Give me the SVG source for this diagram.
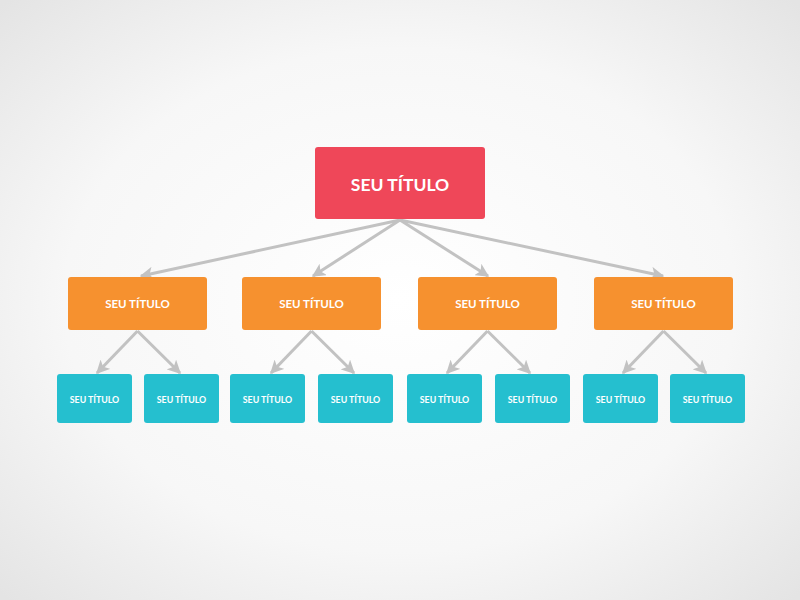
<svg xmlns="http://www.w3.org/2000/svg" width="800" height="600" viewBox="0 0 800 600">
<defs>
<radialGradient id="bg" cx="50%" cy="50%" r="70%">
<stop offset="0" stop-color="#ffffff"/>
<stop offset="0.6" stop-color="#f7f7f7"/>
<stop offset="1" stop-color="#e4e4e4"/>
</radialGradient>
<marker id="arr" viewBox="0 0 10 10" refX="9" refY="5" markerWidth="4.5" markerHeight="4.5" orient="auto" markerUnits="strokeWidth">
<path d="M0,0 L10,5 L0,10 L2.5,5 Z" fill="#c2c2c2"/>
</marker>
<style>
.red{fill:#ef4759}
.org{fill:#f6912f}
.teal{fill:#25bfcf}
text{font-family:Lato,"Open Sans","Liberation Sans",sans-serif;font-weight:bold;fill:#ffffff;text-anchor:middle;dominant-baseline:central}
.t1{font-size:17.5px}
.t2{font-size:11.5px}
.t3{font-size:8.8px}
.c{stroke:#c2c2c2;stroke-width:3;fill:none;marker-end:url(#arr)}
</style>
</defs>
<rect width="800" height="600" fill="url(#bg)"/>
<g id="connectors">
<line class="c" x1="400" y1="220" x2="141" y2="276"/>
<line class="c" x1="400" y1="220" x2="313" y2="276"/>
<line class="c" x1="400" y1="220" x2="488" y2="276"/>
<line class="c" x1="400" y1="220" x2="663" y2="276"/>
<line class="c" x1="137.5" y1="331" x2="97" y2="373"/>
<line class="c" x1="137.5" y1="331" x2="180" y2="373"/>
<line class="c" x1="311.5" y1="331" x2="271" y2="373"/>
<line class="c" x1="311.5" y1="331" x2="354" y2="373"/>
<line class="c" x1="487.5" y1="331" x2="447" y2="373"/>
<line class="c" x1="487.5" y1="331" x2="530" y2="373"/>
<line class="c" x1="663.5" y1="331" x2="623" y2="373"/>
<line class="c" x1="663.5" y1="331" x2="706" y2="373"/>
</g>
<g id="root"><rect class="red" x="315" y="147" width="170" height="72" rx="3"/><text class="t1" x="400" y="184">SEU TÍTULO</text></g>
<g id="n1"><rect class="org" x="68" y="277" width="139" height="53" rx="3"/><text class="t2" x="137.5" y="303">SEU TÍTULO</text></g>
<g id="n2"><rect class="org" x="242" y="277" width="139" height="53" rx="3"/><text class="t2" x="311.5" y="303">SEU TÍTULO</text></g>
<g id="n3"><rect class="org" x="418" y="277" width="139" height="53" rx="3"/><text class="t2" x="487.5" y="303">SEU TÍTULO</text></g>
<g id="n4"><rect class="org" x="594" y="277" width="139" height="53" rx="3"/><text class="t2" x="663.5" y="303">SEU TÍTULO</text></g>
<g id="l1"><rect class="teal" x="57" y="374" width="75" height="49" rx="3"/><text class="t3" x="94.5" y="399">SEU TÍTULO</text></g>
<g id="l2"><rect class="teal" x="144" y="374" width="75" height="49" rx="3"/><text class="t3" x="181.5" y="399">SEU TÍTULO</text></g>
<g id="l3"><rect class="teal" x="230" y="374" width="75" height="49" rx="3"/><text class="t3" x="267.5" y="399">SEU TÍTULO</text></g>
<g id="l4"><rect class="teal" x="318" y="374" width="75" height="49" rx="3"/><text class="t3" x="355.5" y="399">SEU TÍTULO</text></g>
<g id="l5"><rect class="teal" x="407" y="374" width="75" height="49" rx="3"/><text class="t3" x="444.5" y="399">SEU TÍTULO</text></g>
<g id="l6"><rect class="teal" x="495" y="374" width="75" height="49" rx="3"/><text class="t3" x="532.5" y="399">SEU TÍTULO</text></g>
<g id="l7"><rect class="teal" x="583" y="374" width="75" height="49" rx="3"/><text class="t3" x="620.5" y="399">SEU TÍTULO</text></g>
<g id="l8"><rect class="teal" x="670" y="374" width="75" height="49" rx="3"/><text class="t3" x="707.5" y="399">SEU TÍTULO</text></g>
</svg>
